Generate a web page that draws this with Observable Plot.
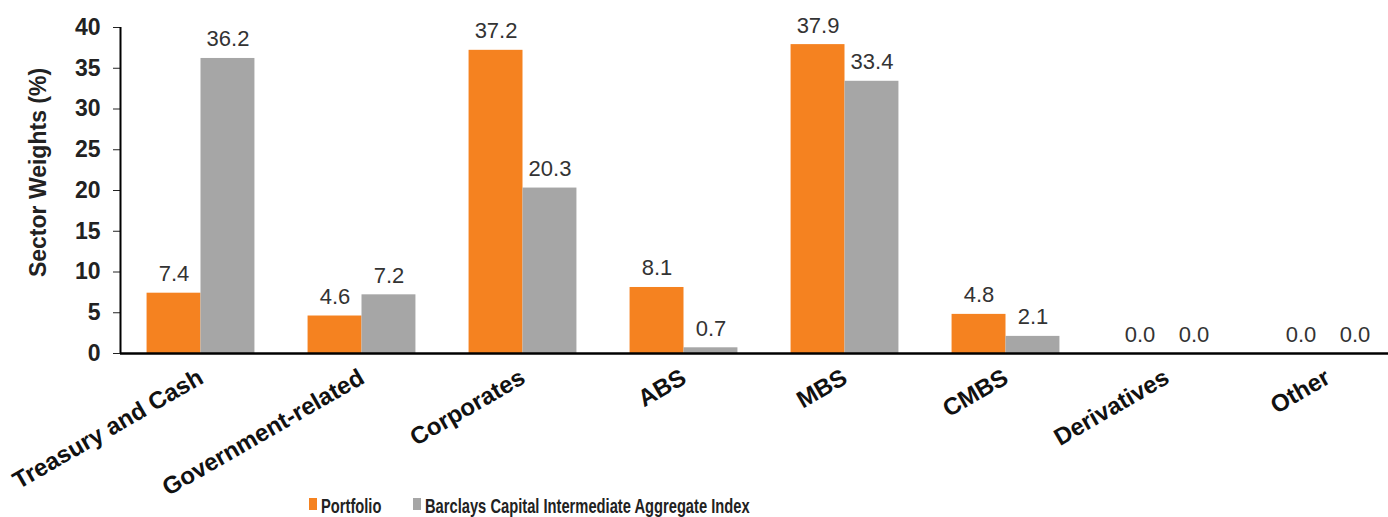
<!DOCTYPE html>
<html>
<head>
<meta charset="utf-8">
<script src="https://cdn.jsdelivr.net/npm/d3@7"></script>
<script src="https://cdn.jsdelivr.net/npm/@observablehq/plot@0.6"></script>
<style>
  html, body { margin: 0; padding: 0; background: #fff; }
  #chart { width: 1388px; overflow: hidden; font-family: "Liberation Sans", Arial, sans-serif; }
  .legend { position: relative; height: 15px; font-family: "Liberation Sans", Arial, sans-serif;
            font-weight: bold; font-size: 21px; color: #222; }
  .legend .sw { position: absolute; top: -4px; width: 8px; height: 12px; }
  .legend .lbl { position: absolute; top: -7px; line-height: 21px; white-space: nowrap;
                 transform: scaleX(0.7); transform-origin: 0 50%; }
</style>
</head>
<body>
<div id="chart"></div>
<script>
// Sector weights by category
const categories = ["Treasury and Cash", "Government-related", "Corporates", "ABS", "MBS", "CMBS", "Derivatives", "Other"];
const portfolio = [7.4, 4.6, 37.2, 8.1, 37.9, 4.8, 0.0, 0.0];
const benchmark = [36.2, 7.2, 20.3, 0.7, 33.4, 2.1, 0.0, 0.0];
const seriesNames = ["Portfolio", "Barclays Capital Intermediate Aggregate Index"];
const seriesColors = ["#F58220", "#A6A6A6"];
const yTicks = [0, 5, 10, 15, 20, 25, 30, 35, 40];
const yTitle = "Sector Weights (%)";

// Each category occupies one unit on x; the two bars sit side by side about its centre
const half = 0.335;
const rows = [];
categories.forEach((c, i) => {
  rows.push({cat: c, i, series: seriesNames[0], value: portfolio[i], x1: i - half, x2: i});
  rows.push({cat: c, i, series: seriesNames[1], value: benchmark[i], x1: i, x2: i + half});
});

const chart = Plot.plot({
  width: 1388,
  height: 502,
  marginTop: 27,
  marginBottom: 149,
  marginLeft: 120,
  marginRight: 0,
  style: {fontFamily: "'Liberation Sans', Arial, sans-serif", background: "#fff"},
  x: {domain: [-0.5, categories.length - 0.5], range: [120, 1408], axis: null},
  y: {domain: [0, 40], axis: null},
  color: {domain: seriesNames, range: seriesColors},
  marks: [
    Plot.rectY(rows, {x1: "x1", x2: "x2", y1: 0, y2: "value", fill: "series"}),
    Plot.text(rows, {
      x: d => (d.x1 + d.x2) / 2, y: "value", text: d => d.value.toFixed(1),
      lineAnchor: "bottom", dy: -12, fontSize: 22, fill: "#333"
    }),
    Plot.axisY({
      ticks: yTicks, tickSize: 7, tickPadding: 13, fontSize: 23, fontWeight: "bold",
      color: "#222", label: null
    }),
    Plot.text([yTitle], {
      frameAnchor: "left", textAnchor: "middle", rotate: -90, dx: -82, dy: -18,
      fontSize: 23, fontWeight: "bold", fill: "#222"
    }),
    Plot.axisX({
      ticks: d3.range(categories.length), tickFormat: i => categories[i],
      tickRotate: -30, tickSize: 0, tickPadding: 22, fontSize: 24, fontWeight: "bold",
      color: "#111", label: null
    }),
    Plot.ruleX([-0.5], {stroke: "#000", strokeWidth: 2}),
    Plot.ruleY([0], {stroke: "#000", strokeWidth: 2.5})
  ]
});

const root = document.getElementById("chart");
root.appendChild(chart);

// Legend below the plot
const legendPos = [{sw: 309, lbl: 321}, {sw: 413, lbl: 425}];
const legend = document.createElement("div");
legend.className = "legend";
seriesNames.forEach((name, k) => {
  const sw = document.createElement("span");
  sw.className = "sw";
  sw.style.left = legendPos[k].sw + "px";
  sw.style.background = seriesColors[k];
  const lbl = document.createElement("span");
  lbl.className = "lbl";
  lbl.style.left = legendPos[k].lbl + "px";
  lbl.textContent = name;
  legend.appendChild(sw);
  legend.appendChild(lbl);
});
root.appendChild(legend);
</script>
</body>
</html>
